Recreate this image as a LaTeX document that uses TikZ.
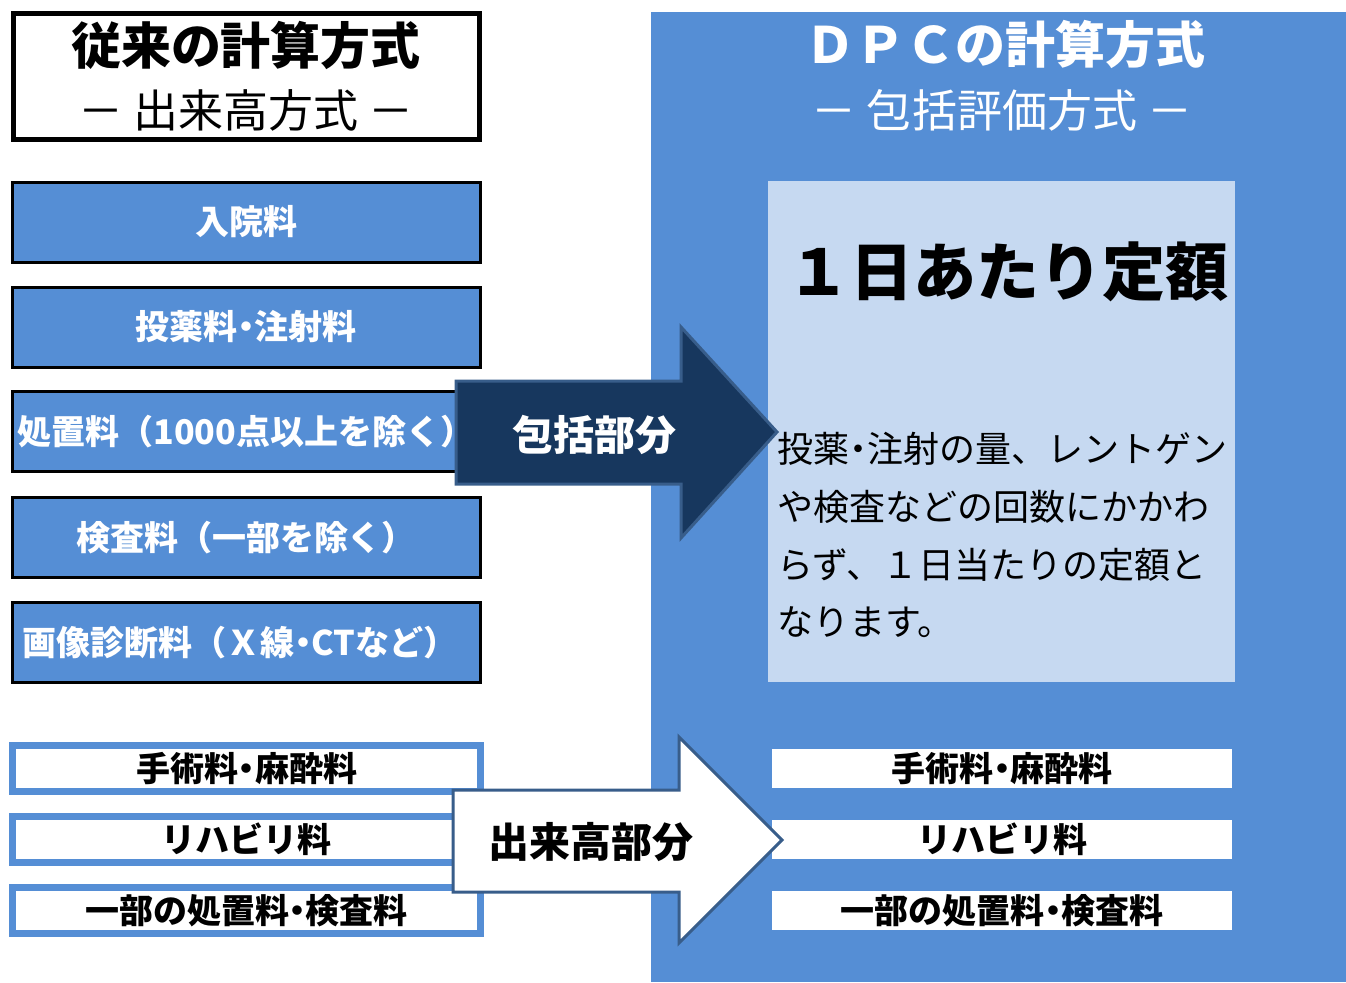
\documentclass[tikz,border=0pt]{standalone}
\usepackage{fontspec}
\newfontfamily\jp{Noto Sans CJK JP}
\newfontfamily\jpp[RawFeature=+palt]{Noto Sans CJK JP}
\newcommand\myfs[1]{\fontsize{#1}{#1}\selectfont}
\newcommand\pdot{{\jpp ・}}
\definecolor{panelblue}{HTML}{558ED5}
\definecolor{lightblue}{HTML}{C6D9F1}
\definecolor{navy}{HTML}{17375E}
\definecolor{arrowedge}{HTML}{385D8A}
\tikzset{
  titlebox/.style={draw=black, line width=2.5pt, fill=white, minimum width=233pt, minimum height=63pt, inner sep=0pt},
  bluebox/.style={draw=black, line width=1.5pt, fill=panelblue, minimum width=234pt, minimum height=40pt, inner sep=0pt, text=white, font=\jp\bfseries\myfs{17}},
  lwhitebox/.style={draw=panelblue, line width=3.2pt, fill=white, minimum width=234pt, minimum height=23pt, inner sep=0pt, font=\jp\bfseries\myfs{17}},
  rwhitebox/.style={fill=white, minimum width=230pt, minimum height=19.5pt, inner sep=0pt, font=\jp\bfseries\myfs{17}},
  bigtitle/.style={inner sep=0pt, font=\jp\bfseries\myfs{25}},
  subtitle/.style={inner sep=0pt, font=\jp\myfs{22.5}},
  bodyline/.style={inner sep=0pt, anchor=west, font=\jp\myfs{18}},
  arrowlabel/.style={inner sep=0pt, font=\jp\bfseries\myfs{20.5}},
  bigarrow/.style={line width=1.5pt, draw=arrowedge, line join=miter}
}
\begin{document}
\begin{tikzpicture}[x=0.5pt,y=-0.5pt]
\useasboundingbox (0,0) rectangle (1346,982);
% right panel
\fill[panelblue] (651,12) rectangle (1346,982);
\node[fill=lightblue, minimum width=233.5pt, minimum height=250.5pt, inner sep=0pt] (fixbox) at (1001.5,431.5) {};
\node[bigtitle, text=white] (dpctitle) at (1005,44) {ＤＰＣの計算方式};
\node[subtitle, text=white] (dpcsub) at (1002,110) {－ 包括評価方式 －};
\node[inner sep=0pt, font=\jp\bfseries\myfs{31.5}] (fixtitle) at (1008,272) {１日あたり定額};
\node[bodyline] (p1) at (777,449) {投薬\pdot 注射の量、レントゲン};
\node[bodyline] (p2) at (777,507) {や検査などの回数にかかわ};
\node[bodyline] (p3) at (777,565) {らず、１日当たりの定額と};
\node[bodyline] (p4) at (777,622) {なります。};
\node[rwhitebox] (r1) at (1002,768.5) {手術料\pdot 麻酔料};
\node[rwhitebox] (r2) at (1002,839.5) {リハビリ料};
\node[rwhitebox] (r3) at (1002,910.5) {一部の処置料\pdot 検査料};
% left side
\node[titlebox] (oldbox) at (246,76) {};
\node[bigtitle] (oldtitle) at (246,45) {従来の計算方式};
\node[subtitle] (oldsub) at (246,110) {－ 出来高方式 －};
\node[bluebox] (b1) at (246,222) {入院料};
\node[bluebox] (b2) at (246,327) {投薬料\pdot 注射料};
\node[bluebox] (b3) at (246,431.5) {処置料（1000点以上を除く）};
\node[bluebox] (b4) at (246,537.5) {検査料（一部を除く）};
\node[bluebox] (b5) at (246,642.5) {画像診断料（Ｘ線\pdot CTなど）\hspace*{6pt}};
\node[lwhitebox] (w1) at (246.5,768.5) {手術料\pdot 麻酔料};
\node[lwhitebox] (w2) at (246.5,839.5) {リハビリ料};
\node[lwhitebox] (w3) at (246.5,910.5) {一部の処置料\pdot 検査料};
% arrows
\draw[bigarrow, fill=navy] (456,381) -- (681,381) -- (681,327) -- (777,432) -- (681,538) -- (681,484) -- (456,484) -- cycle;
\node[arrowlabel, text=white] (incl) at (594,435) {包括部分};
\draw[bigarrow, fill=white] (453,790) -- (679,790) -- (679,737) -- (782,840) -- (679,943) -- (679,892) -- (453,892) -- cycle;
\node[arrowlabel] (perf) at (591,842) {出来高部分};
\end{tikzpicture}
\end{document}
